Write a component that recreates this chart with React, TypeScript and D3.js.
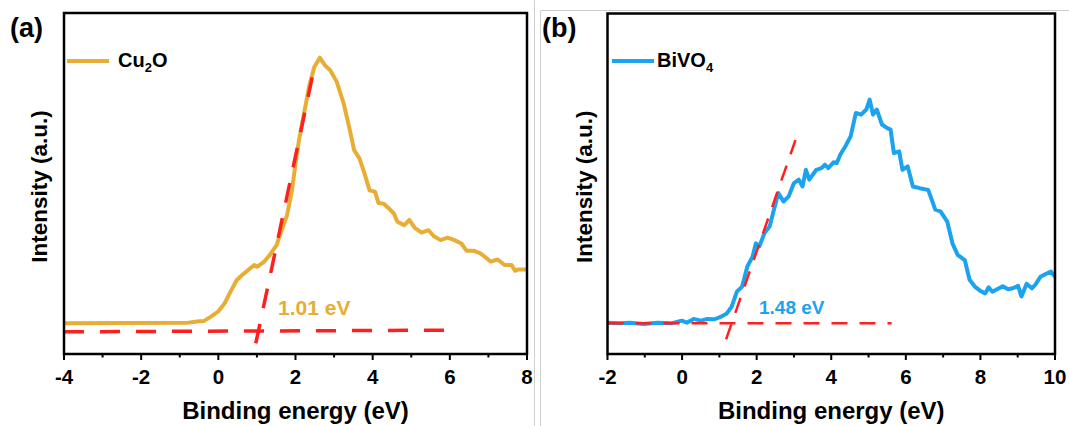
import * as d3 from "d3";

// Cu2O valence band spectrum (binding energy eV, intensity a.u. 0-100 of frame)
const cu2oEnergy = [-4, -0.78, -0.55, -0.37, -0.2, -0.01, 0.16, 0.34, 0.48, 0.61, 0.79, 0.93, 1.01, 1.19, 1.33, 1.51, 1.64, 1.78, 1.91, 2.0, 2.09, 2.22, 2.36, 2.49, 2.63, 2.76, 2.9, 3.07, 3.25, 3.39, 3.52, 3.66, 3.79, 3.92, 4.06, 4.15, 4.28, 4.42, 4.55, 4.64, 4.82, 4.95, 5.09, 5.27, 5.45, 5.58, 5.76, 5.94, 6.12, 6.3, 6.43, 6.61, 6.79, 6.93, 7.06, 7.24, 7.42, 7.6, 7.69, 7.78, 8.0];
const cu2oIntensity = [9.0, 9.2, 9.5, 9.7, 10.9, 12.4, 14.8, 18.8, 21.7, 23.1, 24.8, 26.1, 25.6, 27.1, 29.0, 31.9, 36.3, 40.7, 48.0, 55.9, 62.7, 70.5, 78.8, 84.2, 86.9, 84.7, 83.2, 79.8, 73.4, 66.6, 59.8, 57.3, 52.9, 48.0, 47.6, 44.3, 44.1, 42.7, 41.2, 38.8, 37.8, 39.3, 37.0, 35.6, 36.3, 34.6, 33.4, 34.1, 33.4, 32.4, 30.3, 30.3, 29.5, 28.3, 27.1, 27.7, 26.1, 26.1, 24.4, 24.8, 24.8];

// BiVO4 valence band spectrum
const bivo4Energy = [-2.0, -1.68, -1.4, -1.03, -0.66, -0.29, -0.01, 0.13, 0.31, 0.5, 0.68, 0.87, 1.05, 1.19, 1.33, 1.47, 1.61, 1.75, 1.89, 1.98, 2.07, 2.21, 2.35, 2.44, 2.58, 2.72, 2.86, 3.0, 3.13, 3.23, 3.32, 3.41, 3.6, 3.74, 3.83, 3.92, 4.06, 4.15, 4.24, 4.38, 4.52, 4.66, 4.8, 4.94, 5.03, 5.12, 5.22, 5.36, 5.49, 5.59, 5.68, 5.82, 5.91, 6.05, 6.19, 6.37, 6.6, 6.79, 6.93, 7.11, 7.25, 7.39, 7.58, 7.71, 7.85, 7.99, 8.13, 8.22, 8.32, 8.6, 8.74, 8.87, 9.01, 9.1, 9.24, 9.38, 9.47, 9.61, 9.75, 9.89, 10.0];
const bivo4Intensity = [9.2, 9.0, 9.2, 8.8, 9.2, 9.0, 9.8, 9.2, 10.3, 9.8, 10.3, 10.2, 11.0, 11.8, 13.9, 18.3, 19.8, 25.7, 28.6, 32.5, 31.6, 35.5, 37.5, 41.4, 47.3, 44.8, 46.3, 50.2, 51.2, 49.2, 54.1, 51.2, 54.1, 54.6, 55.6, 54.6, 56.3, 56.1, 58.5, 61.0, 63.9, 70.8, 70.3, 71.8, 74.7, 70.3, 71.8, 67.4, 66.4, 65.9, 59.0, 59.5, 54.1, 55.1, 49.2, 48.7, 48.2, 42.4, 41.9, 38.9, 32.5, 29.1, 27.6, 21.8, 19.8, 18.6, 17.8, 19.6, 18.3, 19.9, 19.0, 19.3, 20.0, 16.9, 20.6, 19.3, 20.3, 22.7, 23.5, 24.2, 22.7];

// tangent (onset) construction lines: [energy, intensity] pairs
const cu2oBaseline = [[-4, 6.5], [6, 7.0]];
const cu2oTangent = [[0.97, 3.1], [2.5, 84.7]];
const bivo4Baseline = [[-2, 9.0], [5.62, 9.0]];
const bivo4Tangent = [[1.18, 4.3], [3.04, 62.8]];

const cu2oTicks = [-4, -2, 0, 2, 4, 6, 8];
const bivo4Ticks = [-2, 0, 2, 4, 6, 8, 10];

const FONT = "'Liberation Sans', Arial, Helvetica, sans-serif";

function Panel({ left, right, top, bottom, domain, ticks, xs, ys, color, baseline, tangent, dash, dashWidth, tag, tagX, legend, legendSub, legendX, legendTextX, note, noteX, noteY, noteSize, titleX }) {
  const x = d3.scaleLinear().domain(domain).range([left, right]);
  const y = d3.scaleLinear().domain([0, 100]).range([bottom, top]);
  const line = d3.line().x((d) => x(d[0])).y((d) => y(d[1]));
  const pts = xs.map((v, i) => [v, ys[i]]);
  const minor = d3.range(domain[0] + 1, domain[1], 2);
  const cy = (top + bottom) / 2;
  return (
    <g fontFamily={FONT} fontWeight="bold">
      <path d={line(pts)} fill="none" stroke={color} strokeWidth={4} strokeLinejoin="round" />
      <path d={line(baseline)} fill="none" stroke="#ff1f1f" strokeWidth={dashWidth} strokeDasharray={dash} />
      <path d={line(tangent)} fill="none" stroke="#ff1f1f" strokeWidth={dashWidth} strokeDasharray={dash} />
      <rect x={left} y={top} width={right - left} height={bottom - top} fill="none" stroke="#000" strokeWidth={2.5} />
      {ticks.map((t) => (
        <g key={t}>
          <line x1={x(t)} x2={x(t)} y1={bottom} y2={bottom + 6} stroke="#000" strokeWidth={2} />
          <text x={x(t)} y={384} textAnchor="middle" fontSize={20.5}>{t}</text>
        </g>
      ))}
      {minor.map((t) => (
        <line key={t} x1={x(t)} x2={x(t)} y1={bottom} y2={bottom + 3.5} stroke="#000" strokeWidth={2} />
      ))}
      <text x={(left + right) / 2} y={419} textAnchor="middle" fontSize={24}>Binding energy (eV)</text>
      <text transform={`translate(${titleX},${cy + 3}) rotate(-90)`} textAnchor="middle" fontSize={22.5}>Intensity (a.u.)</text>
      <text x={tagX} y={37} fontSize={27}>{tag}</text>
      <line x1={legendX} x2={legendX + 42} y1={61} y2={61} stroke={color} strokeWidth={4} />
      <text x={legendTextX} y={67} fontSize={20}>
        {legend}
        <tspan fontSize={13} dy={5}>{legendSub}</tspan>
        <tspan dy={-5}>{legend === "Cu" ? "O" : ""}</tspan>
      </text>
      <text x={noteX} y={noteY} fontSize={noteSize} fill={color}>{note}</text>
    </g>
  );
}

export default function App() {
  return (
    <div style={{ position: "absolute", left: 0, top: 0 }}>
      <svg width={1069} height={426} style={{ display: "block", background: "#fff" }}>
        <line x1={534.5} x2={534.5} y1={0} y2={426} stroke="#cfcfcf" strokeWidth={1} />
        <path d="M540.5,426 V10.5 H1069" fill="none" stroke="#cfcfcf" strokeWidth={1} />
        <Panel
          left={64} right={527} top={13} bottom={354}
          domain={[-4, 8]} ticks={cu2oTicks}
          xs={cu2oEnergy} ys={cu2oIntensity} color="#e8ad35"
          baseline={cu2oBaseline} tangent={cu2oTangent}
          dash="20 16" dashWidth={3.5}
          tag="(a)" tagX={10}
          legend="Cu" legendSub="2" legendX={67} legendTextX={118}
          note="1.01 eV" noteX={278} noteY={315} noteSize={21}
          titleX={47}
        />
        <Panel
          left={607.5} right={1055} top={13.5} bottom={354}
          domain={[-2, 10]} ticks={bivo4Ticks}
          xs={bivo4Energy} ys={bivo4Intensity} color="#1ba3ef"
          baseline={bivo4Baseline} tangent={bivo4Tangent}
          dash="16 12" dashWidth={2.5}
          tag="(b)" tagX={542}
          legend="BiVO" legendSub="4" legendX={612} legendTextX={657}
          note="1.48 eV" noteX={759} noteY={314} noteSize={19}
          titleX={592}
        />
      </svg>
    </div>
  );
}
